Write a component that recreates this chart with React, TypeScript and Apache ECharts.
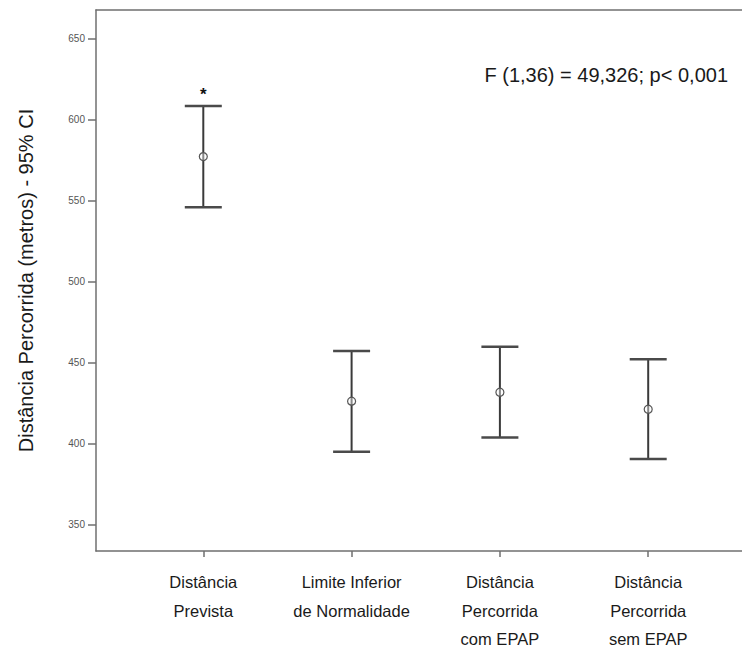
import React, { useEffect, useRef } from "react";
import * as echarts from "echarts";

const categories = [
  "Distância\nPrevista",
  "Limite Inferior\nde Normalidade",
  "Distância\nPercorrida\ncom EPAP",
  "Distância\nPercorrida\nsem EPAP",
];
const positions = [1, 2, 3, 4];
const means = [577, 426, 431.5, 421];
const lowerCI = [545.7, 394.8, 403.5, 390.3];
const upperCI = [608.2, 457, 459.6, 451.9];
const marks = ["*", "", "", ""];
const yTicks = [350, 400, 450, 500, 550, 600, 650];
const yTitle = "Distância Percorrida (metros) - 95% CI";
const annotation = "F (1,36) = 49,326; p< 0,001";

const FONT = "Liberation Sans, Arial, sans-serif";
const AXIS = "#6f6f6f";

export default function App() {
  const ref = useRef<HTMLDivElement>(null);
  useEffect(() => {
    if (!ref.current) return;
    const chart = echarts.init(ref.current, null, { renderer: "svg" });
    const data = positions.map((p, i) => [p, lowerCI[i], means[i], upperCI[i], i]);
    chart.setOption({
      animation: false,
      backgroundColor: "#ffffff",
      textStyle: { fontFamily: FONT },
      grid: { left: 96, top: 10, right: 0, bottom: 107, containLabel: false },
      xAxis: [
        {
          type: "value",
          min: 0.2765,
          max: 4.6325,
          position: "bottom",
          axisLine: { show: true, lineStyle: { color: AXIS, width: 1.5 } },
          axisTick: { show: true, length: 6, customValues: positions, lineStyle: { color: AXIS, width: 1.5 } },
          axisLabel: {
            customValues: positions,
            margin: 17,
            color: "#1a1a1a",
            fontSize: 16.5,
            fontFamily: FONT,
            lineHeight: 28.5,
            formatter: (v: number) => {
              const idx = Math.round(v) - 1;
              return categories[idx] ?? "";
            },
          },
          splitLine: { show: false },
        },
        {
          type: "value",
          min: 0.2765,
          max: 4.6325,
          position: "top",
          axisLine: { show: true, lineStyle: { color: AXIS, width: 1.5 } },
          axisTick: { show: false },
          axisLabel: { show: false },
          splitLine: { show: false },
        },
      ],
      yAxis: {
        type: "value",
        min: 333.5,
        max: 667.5,
        name: yTitle,
        nameLocation: "middle",
        nameGap: 60,
        nameTextStyle: { color: "#1a1a1a", fontSize: 20, fontFamily: FONT },
        axisLine: { show: true, lineStyle: { color: AXIS, width: 1.5 } },
        axisTick: { show: true, length: 8, customValues: yTicks, lineStyle: { color: AXIS, width: 1.5 } },
        axisLabel: { customValues: yTicks, margin: 11, color: "#555", fontSize: 10, fontFamily: FONT },
        splitLine: { show: false },
      },
      graphic: [
        {
          type: "text",
          right: 14,
          top: 65,
          style: { text: annotation, fill: "#1a1a1a", font: `20px ${FONT}` },
        },
      ],
      series: [
        {
          type: "custom",
          xAxisIndex: 0,
          encode: { x: 0, y: [1, 2, 3] },
          data,
          renderItem: (params: any, api: any) => {
            const x = api.value(0);
            const lo = api.coord([x, api.value(1)]);
            const mid = api.coord([x, api.value(2)]);
            const hi = api.coord([x, api.value(3)]);
            const idx = api.value(4);
            const half = 18.5;
            const line = { stroke: "#3a3a3a", lineWidth: 2 };
            const children: any[] = [
              { type: "line", shape: { x1: hi[0], y1: hi[1], x2: lo[0], y2: lo[1] }, style: line },
              { type: "line", shape: { x1: hi[0] - half, y1: hi[1], x2: hi[0] + half, y2: hi[1] }, style: { stroke: "#4a4a4a", lineWidth: 2.5 } },
              { type: "line", shape: { x1: lo[0] - half, y1: lo[1], x2: lo[0] + half, y2: lo[1] }, style: { stroke: "#4a4a4a", lineWidth: 2.5 } },
              { type: "circle", shape: { cx: mid[0], cy: mid[1], r: 4 }, style: { fill: "rgba(255,255,255,0.4)", stroke: "#555", lineWidth: 1.2 } },
            ];
            const m = marks[idx];
            if (m) {
              children.push({
                type: "text",
                x: hi[0],
                y: hi[1] - 3,
                style: { text: m, fill: "#111", font: `bold 17px ${FONT}`, align: "center", verticalAlign: "bottom" },
              });
            }
            return { type: "group", children };
          },
        },
      ],
    });
    return () => chart.dispose();
  }, []);
  return (
    <div
      ref={ref}
      style={{ position: "fixed", left: 0, top: 0, width: 742, height: 658, background: "#fff" }}
    />
  );
}
